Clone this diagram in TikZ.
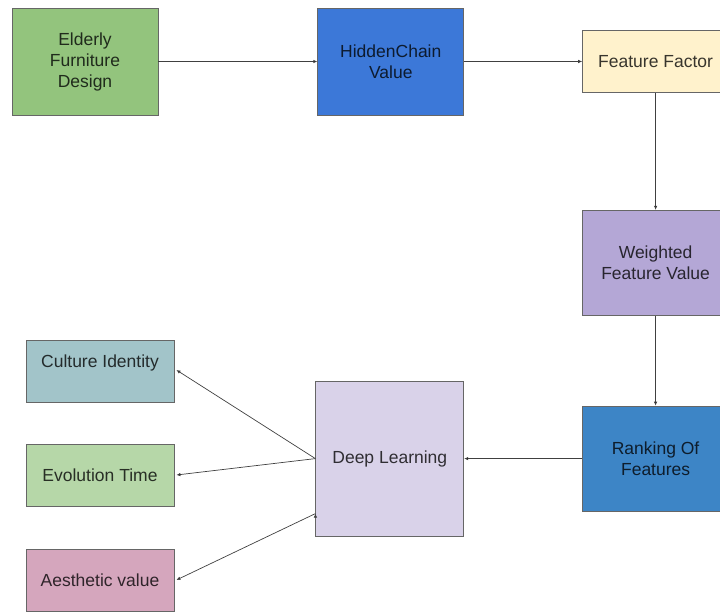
\documentclass[tikz,border=0pt]{standalone}
\usepackage{fontspec}
\setmainfont{Liberation Sans}
\usetikzlibrary{positioning,arrows.meta}

\definecolor{elderlygreen}{HTML}{93C47D}
\definecolor{chainblue}{HTML}{3C78D8}
\definecolor{factorcream}{HTML}{FFF2CC}
\definecolor{weightpurple}{HTML}{B4A7D6}
\definecolor{rankblue}{HTML}{3D85C6}
\definecolor{deeplilac}{HTML}{D9D2E9}
\definecolor{cultureteal}{HTML}{A2C4C9}
\definecolor{evolgreen}{HTML}{B6D7A8}
\definecolor{aestheticpink}{HTML}{D5A6BD}

\begin{document}
\begin{tikzpicture}[x=1pt,y=-1pt,
    block/.style={draw=black!60,line width=0.8pt,fill=#1,text=#1!22!black,
        align=center,inner sep=2pt,minimum width=146pt,
        font=\fontsize{17.5}{21}\selectfont},
    conn/.style={draw=black!75,line width=0.7pt,-{Latex[length=4pt,width=3.5pt]}}]
            \useasboundingbox (0,0) rectangle (720,612);
            \node[block=elderlygreen,minimum height=107pt](elderly) at (85,61.5){Elderly\\Furniture\\Design};
            \node[block=chainblue,minimum height=107pt](hidden)[right =159pt of elderly]{HiddenChain\\Value};
            \node[block=factorcream,minimum height=62pt](factor)[right =118pt of hidden]{Feature Factor};
            \node[block=weightpurple,minimum height=105pt](weighted)[below =117pt of factor]{Weighted\\Feature Value};
            \node[block=rankblue,minimum height=105pt](ranking)[below =90pt of weighted]{Ranking Of\\Features};
            \node[block=deeplilac,minimum width=148pt,minimum height=155pt](deep)[left =118pt of ranking]{Deep Learning};
            \node[block=cultureteal,minimum width=148pt,minimum height=62pt,text depth=20pt](culture) at (100,371){Culture Identity};
            \node[block=evolgreen,minimum width=148pt,minimum height=62pt](evolution) at (100,475){Evolution Time};
            \node[block=aestheticpink,minimum width=148pt,minimum height=62pt](aesthetic) at (100,580){Aesthetic value};
            \path[conn](elderly) edge (hidden)
                    (hidden) edge (factor)
                    (factor) edge (weighted)
                    (weighted) edge (ranking)
                    (ranking) edge (deep)
                    (deep.west) edge ([xshift=2pt,yshift=1pt]culture.east)
                                edge ([xshift=2pt]evolution.east)
                    ([yshift=-55pt]deep.west) edge ([xshift=2pt]aesthetic.east);
        \end{tikzpicture}
\end{document}
